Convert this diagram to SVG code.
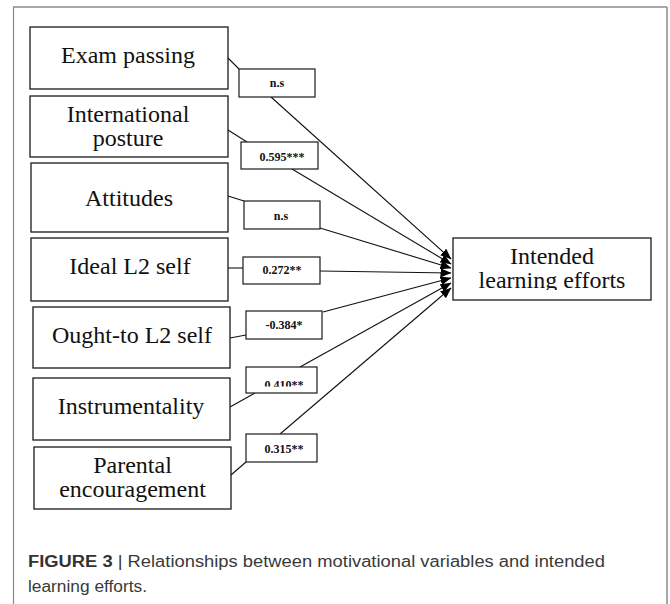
<svg xmlns="http://www.w3.org/2000/svg" width="670" height="604" viewBox="0 0 670 604">
  <style>
    .box { fill: #ffffff; stroke: #1a1a1a; stroke-width: 1.3; }
    .lbl { fill: #ffffff; stroke: #1a1a1a; stroke-width: 1.2; }
    .nt { font-family: "Liberation Serif", "Times New Roman", serif; font-size: 24px; fill: #111; text-anchor: middle; }
    .lt { font-family: "Liberation Serif", "Times New Roman", serif; font-size: 12px; font-weight: bold; fill: #111; text-anchor: middle; }
    .ln { stroke: #111; stroke-width: 1.1; fill: none; }
    .cap { font-family: "Liberation Sans", Arial, sans-serif; font-size: 16px; fill: #3a3a3a; }
  </style>
  <defs>
    <marker id="arr" markerUnits="userSpaceOnUse" markerWidth="11" markerHeight="9" refX="10.5" refY="4.5" orient="auto">
      <path d="M0,0 L11,4.5 L0,9 z" fill="#000"/>
    </marker>
    <clipPath id="clip410"><rect x="246" y="367" width="71" height="19.5"/></clipPath>
    <clipPath id="clipIle"><rect x="453" y="238" width="198" height="52"/></clipPath>
  </defs>

  <rect width="670" height="604" fill="#ffffff"/>

  <g id="frame">
    <line x1="13" y1="7" x2="667" y2="7" stroke="#a8a8a8" stroke-width="2"/>
    <line x1="13.5" y1="7" x2="13.5" y2="604" stroke="#8a8a8a" stroke-width="1.2"/>
    <line x1="667" y1="7" x2="667" y2="604" stroke="#8a8a8a" stroke-width="1.5"/>
  </g>

  <g id="connectors">
    <line class="ln" x1="228" y1="58" x2="239" y2="69"/>
    <line class="ln" x1="271" y1="97" x2="451" y2="259" marker-end="url(#arr)"/>
    <line class="ln" x1="228" y1="130" x2="247" y2="142"/>
    <line class="ln" x1="292" y1="169" x2="451" y2="264" marker-end="url(#arr)"/>
    <line class="ln" x1="228" y1="196" x2="244" y2="201"/>
    <line class="ln" x1="320" y1="228" x2="451" y2="268" marker-end="url(#arr)"/>
    <line class="ln" x1="228" y1="268" x2="243" y2="268"/>
    <line class="ln" x1="320" y1="271" x2="451" y2="273" marker-end="url(#arr)"/>
    <line class="ln" x1="230" y1="338" x2="246" y2="335"/>
    <line class="ln" x1="323" y1="312" x2="451" y2="278" marker-end="url(#arr)"/>
    <line class="ln" x1="230" y1="407" x2="255" y2="393"/>
    <line class="ln" x1="300" y1="367" x2="451" y2="283" marker-end="url(#arr)"/>
    <line class="ln" x1="231" y1="475" x2="246" y2="462"/>
    <line class="ln" x1="280" y1="434" x2="451" y2="288" marker-end="url(#arr)"/>
  </g>

  <g id="node-exam">
    <rect class="box" x="30" y="27" width="198" height="62"/>
    <text class="nt" x="128" y="63">Exam passing</text>
  </g>
  <g id="node-intl">
    <rect class="box" x="30" y="96" width="198" height="61"/>
    <text class="nt" x="128" y="122">International<tspan x="128" dy="24">posture</tspan></text>
  </g>
  <g id="node-att">
    <rect class="box" x="31" y="163" width="197" height="69"/>
    <text class="nt" x="129" y="206">Attitudes</text>
  </g>
  <g id="node-ideal">
    <rect class="box" x="31" y="238" width="197" height="63"/>
    <text class="nt" x="130" y="274">Ideal L2 self</text>
  </g>
  <g id="node-ought">
    <rect class="box" x="33" y="307" width="197" height="61"/>
    <text class="nt" x="132" y="343">Ought-to L2 self</text>
  </g>
  <g id="node-instr">
    <rect class="box" x="33" y="378" width="197" height="62"/>
    <text class="nt" x="131" y="414">Instrumentality</text>
  </g>
  <g id="node-parent">
    <rect class="box" x="34" y="447" width="197" height="62"/>
    <text class="nt" x="132.5" y="473">Parental<tspan x="132.5" dy="24">encouragement</tspan></text>
  </g>
  <g id="node-target">
    <rect class="box" x="453" y="238" width="198" height="62"/>
    <g clip-path="url(#clipIle)">
      <text class="nt" x="552" y="264">Intended<tspan x="552" dy="24">learning efforts</tspan></text>
    </g>
  </g>

  <g id="label-1">
    <rect class="lbl" x="239" y="69" width="76" height="28"/>
    <text class="lt" x="277" y="87">n.s</text>
  </g>
  <g id="label-2">
    <rect class="lbl" x="241" y="142" width="77" height="27"/>
    <text class="lt" x="282" y="161">0.595***</text>
  </g>
  <g id="label-3">
    <rect class="lbl" x="244" y="201" width="76" height="28"/>
    <text class="lt" x="281" y="220">n.s</text>
  </g>
  <g id="label-4">
    <rect class="lbl" x="243" y="257" width="77" height="27"/>
    <text class="lt" x="282" y="274">0.272**</text>
  </g>
  <g id="label-5">
    <rect class="lbl" x="246" y="311" width="76" height="28"/>
    <text class="lt" x="284" y="329">-0.384*</text>
  </g>
  <g id="label-6">
    <rect class="lbl" x="246" y="367" width="71" height="26"/>
    <g clip-path="url(#clip410)">
      <text class="lt" x="284" y="389">0.410**</text>
    </g>
  </g>
  <g id="label-7">
    <rect class="lbl" x="246" y="434" width="71" height="28"/>
    <text class="lt" x="284" y="453">0.315**</text>
  </g>

  <g id="caption">
    <text class="cap" x="28" y="567" textLength="577" lengthAdjust="spacingAndGlyphs"><tspan font-weight="bold" fill="#333">FIGURE 3</tspan> | Relationships between motivational variables and intended</text>
    <text class="cap" x="28" y="592" textLength="119" lengthAdjust="spacingAndGlyphs">learning efforts.</text>
  </g>
</svg>
